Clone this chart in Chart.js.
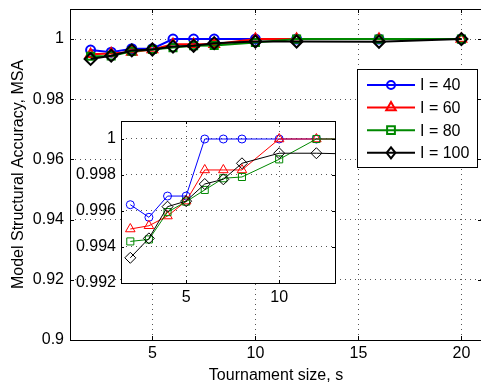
<!DOCTYPE html>
<html>
<head>
<meta charset="utf-8">
<script src="https://cdn.jsdelivr.net/npm/chart.js@4/dist/chart.umd.min.js"></script>
<style>
  html, body { margin: 0; padding: 0; background: #fff; overflow: hidden; }
  #wrap { position: relative; width: 481px; height: 387px; overflow: hidden; }
  #main { position: absolute; left: 0; top: 0; }
  #inset { position: absolute; left: 71px; top: 110px; }
</style>
</head>
<body>
<div id="wrap">
  <canvas id="main" width="490" height="387"></canvas>
  <canvas id="inset" width="274" height="200"></canvas>
</div>
<script>
// tournament sizes and accuracy per population size I
const tournamentSizes = [2, 3, 4, 5, 6, 7, 8, 10, 12, 16, 20];
const seriesLabels = ['I = 40', 'I = 60', 'I = 80', 'I = 100'];
const accI40 = [0.99635, 0.99565, 0.99683, 0.99683, 1, 1, 1, 1, 1, 1, 1];
const accI60 = [0.9950, 0.99518, 0.99572, 0.99655, 0.99828, 0.99828, 0.99828, 1, 1, 1, 1];
const accI80 = [0.99431, 0.99442, 0.99594, 0.99652, 0.99717, 0.99782, 0.99789, 0.99887, 1, 1, 1];
const accI100 = [0.9934, 0.99448, 0.99624, 0.99655, 0.9975, 0.99776, 0.99865, 0.99921, 0.99921, 0.99912, 1];

const mainXTicks = [5, 10, 15, 20];
const mainYTicks = [0.9, 0.92, 0.94, 0.96, 0.98, 1];
const insetXTicks = [5, 10];
const insetYTicks = [0.992, 0.994, 0.996, 0.998, 1];

const seriesValues = [accI40, accI60, accI80, accI100];
const seriesColors = ['#0000ff', '#ff0000', '#008800', '#000000'];
const seriesMarkers = ['circle', 'triangle', 'rect', 'rectRot'];

const FONT = { family: "'Liberation Sans', Arial, Helvetica, sans-serif", size: 16 };

/**
 * Draw a hollow marker (used for the legend)
 */
function drawMarker(ctx, style, x, y, r) {
  ctx.beginPath();
  if (style === 'circle') {
    ctx.arc(x, y, r, 0, Math.PI * 2);
  } else if (style === 'triangle') {
    ctx.moveTo(x, y - r);
    ctx.lineTo(x + r * 0.866, y + r * 0.5);
    ctx.lineTo(x - r * 0.866, y + r * 0.5);
    ctx.closePath();
  } else if (style === 'rect') {
    const s = r * Math.SQRT1_2;
    ctx.rect(x - s, y - s, 2 * s, 2 * s);
  } else {
    ctx.moveTo(x - r * 0.8, y);
    ctx.lineTo(x, y - r);
    ctx.lineTo(x + r * 0.8, y);
    ctx.lineTo(x, y + r);
    ctx.closePath();
  }
  ctx.stroke();
}

/**
 * MATLAB-like axes: white plot area, box and inward ticks
 */
const matlabAxes = {
  id: 'matlabAxes',
  beforeDraw(chart) {
    const a = chart.chartArea;
    const ctx = chart.ctx;
    ctx.save();
    ctx.fillStyle = '#ffffff';
    ctx.fillRect(a.left, a.top, a.right - a.left, a.bottom - a.top);
    ctx.restore();
  },
  afterDraw(chart, args, opts) {
    const a = chart.chartArea;
    const ctx = chart.ctx;
    const len = opts.tickLength || 4;
    ctx.save();
    ctx.strokeStyle = '#000';
    ctx.lineWidth = 1;
    ctx.strokeRect(Math.round(a.left) + 0.5, Math.round(a.top) + 0.5,
      Math.round(a.right - a.left), Math.round(a.bottom - a.top));
    ctx.beginPath();
    chart.scales.x.ticks.forEach(t => {
      const px = Math.round(chart.scales.x.getPixelForValue(t.value)) + 0.5;
      ctx.moveTo(px, a.bottom); ctx.lineTo(px, a.bottom - len);
      ctx.moveTo(px, a.top); ctx.lineTo(px, a.top + len);
    });
    chart.scales.y.ticks.forEach(t => {
      const py = Math.round(chart.scales.y.getPixelForValue(t.value)) + 0.5;
      ctx.moveTo(a.left, py); ctx.lineTo(a.left + len, py);
      ctx.moveTo(a.right, py); ctx.lineTo(a.right - len, py);
    });
    ctx.stroke();
    ctx.restore();
  }
};

/**
 * Boxed legend in the upper right of the main axes
 */
const boxLegend = {
  id: 'boxLegend',
  afterDraw(chart) {
    const ctx = chart.ctx;
    const left = 357, top = 69, w = 120, h = 98;
    ctx.save();
    ctx.fillStyle = '#fff';
    ctx.fillRect(left, top, w, h);
    ctx.strokeStyle = '#000';
    ctx.lineWidth = 1;
    ctx.strokeRect(left + 0.5, top + 0.5, w, h);
    ctx.font = `${FONT.size}px ${FONT.family}`;
    ctx.textBaseline = 'middle';
    ctx.textAlign = 'left';
    seriesLabels.forEach((label, i) => {
      const y = top + 16 + i * 22.6;
      ctx.strokeStyle = seriesColors[i];
      ctx.lineWidth = 2;
      ctx.beginPath();
      ctx.moveTo(367, y); ctx.lineTo(415, y);
      ctx.stroke();
      drawMarker(ctx, seriesMarkers[i], 391, y, seriesMarkers[i] === 'circle' ? 4 : 5.5);
      ctx.fillStyle = '#000';
      ctx.fillText(label, 420, y + 1);
    });
    ctx.restore();
  }
};

function buildDatasets(lineWidth, radii) {
  return seriesLabels.map((label, i) => ({
    label,
    data: tournamentSizes.map((s, k) => ({ x: s, y: seriesValues[i][k] })),
    borderColor: seriesColors[i],
    backgroundColor: 'transparent',
    borderWidth: lineWidth,
    pointStyle: seriesMarkers[i],
    pointRadius: radii[i],
    pointBorderWidth: lineWidth,
    pointBorderColor: seriesColors[i],
    pointBackgroundColor: 'transparent',
    tension: 0,
    clip: 0,
    order: seriesLabels.length - i,
  }));
}

function axisOptions(min, max, tickValues, width, height, title, padding, titlePad) {
  const opts = {
    type: 'linear',
    min,
    max,
    afterBuildTicks: (scale) => { scale.ticks = tickValues.map(v => ({ value: v })); },
    ticks: { color: '#000', font: FONT, padding, autoSkip: false, maxRotation: 0, callback: v => String(v) },
    grid: { color: '#555', drawTicks: false, lineWidth: 1 },
    border: { display: false, dash: [1, 4] },
  };
  // fix the axis size and drop the label overflow padding so the plot area sits where it should
  opts.afterFit = (scale) => {
    if (width) scale.width = width;
    if (height) scale.height = height;
    scale.paddingTop = 0;
    scale.paddingBottom = 0;
    scale.paddingLeft = 0;
    scale.paddingRight = 0;
  };
  if (title) opts.title = { display: true, text: title, color: '#000', font: FONT, padding: titlePad };
  return opts;
}

new Chart(document.getElementById('main'), {
  type: 'line',
  data: { datasets: buildDatasets(2, [4.5, 5.5, 5, 6]) },
  options: {
    responsive: false,
    animation: false,
    layout: { padding: { top: 9, right: 4, left: 0, bottom: 0 } },
    plugins: { legend: { display: false }, tooltip: { enabled: false }, matlabAxes: { tickLength: 4 } },
    scales: {
      x: axisOptions(1, 21, mainXTicks, null, 47, 'Tournament size, s', 4, { top: 0, bottom: 2 }),
      y: axisOptions(0.9, 1.01, mainYTicks, 70, null, 'Model Structural Accuracy, MSA', 6, { top: 8.5, bottom: 0 }),
    },
  },
  plugins: [matlabAxes, boxLegend],
});

new Chart(document.getElementById('inset'), {
  type: 'line',
  data: { datasets: buildDatasets(1, [4, 5.5, 5, 5.5]) },
  options: {
    responsive: false,
    animation: false,
    layout: { padding: { top: 11, right: 10, left: 0, bottom: 0 } },
    plugins: { legend: { display: false }, tooltip: { enabled: false }, matlabAxes: { tickLength: 3 } },
    scales: {
      x: axisOptions(1.5, 13, insetXTicks, null, 27, null, 5),
      y: axisOptions(0.992, 1.001, insetYTicks, 50, null, null, 5),
    },
  },
  plugins: [matlabAxes],
});
</script>
</body>
</html>
